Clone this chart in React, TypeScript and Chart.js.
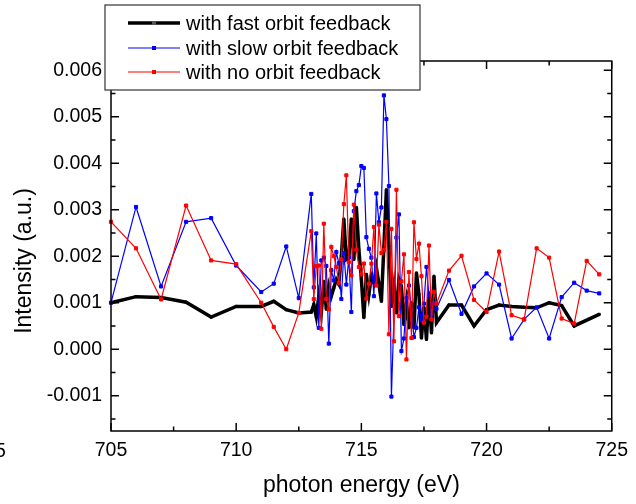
import React, { useEffect, useRef } from 'react';
import { Chart, registerables } from 'chart.js';

Chart.register(...registerables);

// photon energy (eV)
const energy = [
  705, 706, 707, 708, 709, 710, 711, 711.5, 712, 712.5,
  713.0, 713.1, 713.2, 713.3, 713.4, 713.5, 713.6, 713.7, 713.8, 713.9,
  714.0, 714.1, 714.2, 714.3, 714.4, 714.5, 714.6, 714.7, 714.8, 714.9,
  715.0, 715.1, 715.2, 715.3, 715.4, 715.5, 715.6, 715.7, 715.8, 715.9,
  716.0, 716.1, 716.2, 716.3, 716.4, 716.5, 716.6, 716.7, 716.8, 716.9,
  717.0, 717.1, 717.2, 717.3, 717.4, 717.5, 717.6, 717.7, 717.8, 717.9,
  718.0, 718.5, 719, 719.5, 720, 720.5, 721, 721.5, 722, 722.5, 723, 723.5, 724, 724.5,
];

// with fast orbit feedback
const fastFeedback = [
  0.00100, 0.00113, 0.00111, 0.00101, 0.00069, 0.00092, 0.00092, 0.00103, 0.00085, 0.00078,
  0.00080, 0.00096, 0.00070, 0.00114, 0.00078, 0.00146, 0.00086, 0.00135, 0.00114, 0.00132,
  0.00150, 0.00140, 0.00200, 0.00280, 0.00193, 0.00197, 0.00280, 0.00193, 0.00305, 0.00214,
  0.00150, 0.00068, 0.00161, 0.00118, 0.00157, 0.00143, 0.00175, 0.00140, 0.00103, 0.00220,
  0.00343, 0.00222, 0.00092, 0.00135, 0.00078, 0.00150, 0.00135, 0.00053, 0.00100, 0.00046,
  0.00100, 0.00046, 0.00164, 0.00118, 0.00024, 0.00090, 0.00021, 0.00121, 0.00035, 0.00157,
  0.00057, 0.00095, 0.00095, 0.00050, 0.00085, 0.00095, 0.00092, 0.00090, 0.00089, 0.00100, 0.00094, 0.00050, null, 0.00075,
];

// with slow orbit feedback
const slowFeedback = [
  0.00100, 0.00306, 0.00135, 0.00274, 0.00282, 0.00180, 0.00123, 0.00141, 0.00221, 0.00110,
  0.00334, 0.00133, 0.00249, 0.00046, 0.00191, 0.00197, 0.00179, 0.00012, 0.00170, 0.00148,
  0.00209, 0.00185, 0.00108, 0.00207, 0.00139, 0.00197, 0.00080, 0.00297, 0.00340, 0.00353,
  0.00394, 0.00390, 0.00241, 0.00216, 0.00197, 0.00114, 0.00335, 0.00273, 0.00305, 0.00546,
  0.00495, 0.00351, -0.00102, null, 0.00240, 0.00290, -0.00004, 0.00023, 0.00110, 0.00137,
  0.00085, 0.00026, 0.00046, 0.00090, 0.00062, 0.00098, 0.00177, 0.00115, 0.00075, 0.00100,
  0.00087, 0.00149, 0.00076, 0.00135, 0.00163, 0.00139, 0.00023, 0.00064, 0.00090, 0.00023, 0.00112, 0.00143, 0.00126, 0.00120,
];

// with no orbit feedback
const noFeedback = [
  0.00274, 0.00217, 0.00107, 0.00309, 0.00191, 0.00183, 0.00100, 0.00048, 0.00000, 0.00078,
  0.00254, 0.00108, 0.00179, 0.00180, 0.00044, 0.00270, 0.00108, 0.00086, 0.00220, 0.00200,
  0.00177, 0.00143, 0.00193, 0.00312, 0.00374, 0.00187, 0.00159, 0.00311, 0.00214, 0.00177,
  0.00161, 0.00184, 0.00109, 0.00141, 0.00184, 0.00263, 0.00137, 0.00268, 0.00207, 0.00213,
  0.00274, 0.00032, 0.00259, 0.00017, 0.00343, 0.00071, 0.00146, 0.00204, -0.00022, 0.00166,
  0.00024, 0.00273, 0.00194, 0.00227, 0.00157, 0.00057, 0.00070, 0.00223, 0.00064, 0.00123,
  0.00098, 0.00169, 0.00201, 0.00106, 0.00080, 0.00210, 0.00073, 0.00064, 0.00217, 0.00197, 0.00066, 0.00055, 0.00190, 0.00161,
];

const seriesLabels = ['with fast orbit feedback', 'with slow orbit feedback', 'with no orbit feedback'];
const seriesColors = ['#000000', '#0000ff', '#ff0000'];

const xTicks = [705, 710, 715, 720, 725];
const xMinorTicks = [707.5, 712.5, 717.5, 722.5];
const yTicks = [-0.001, 0, 0.001, 0.002, 0.003, 0.004, 0.005, 0.006];
const yMinorTicks = [-0.0015, -0.0005, 0.0005, 0.0015, 0.0025, 0.0035, 0.0045, 0.0055];

const xTitle = 'photon energy (eV)';
const yTitle = 'Intensity (a.u.)';

const FONT = '"Liberation Sans", Arial, sans-serif';

const decorPlugin = {
  id: 'decor',
  afterDraw(chart: any) {
    const { ctx, chartArea } = chart;
    const { left, right, top, bottom } = chartArea;
    const xs = chart.scales.x;
    const ys = chart.scales.y;
    ctx.save();
    ctx.strokeStyle = '#000';
    ctx.lineWidth = 1.5;
    ctx.strokeRect(left, top, right - left, bottom - top);

    const drawX = (vals: number[], len: number) => {
      vals.forEach((v) => {
        const px = xs.getPixelForValue(v);
        ctx.beginPath();
        ctx.moveTo(px, bottom);
        ctx.lineTo(px, bottom - len);
        ctx.moveTo(px, top);
        ctx.lineTo(px, top + len);
        ctx.stroke();
      });
    };
    const drawY = (vals: number[], len: number) => {
      vals.forEach((v) => {
        const py = ys.getPixelForValue(v);
        ctx.beginPath();
        ctx.moveTo(left, py);
        ctx.lineTo(left + len, py);
        ctx.moveTo(right, py);
        ctx.lineTo(right - len, py);
        ctx.stroke();
      });
    };
    drawX(xTicks, 8);
    drawX(xMinorTicks, 4.5);
    drawY(yTicks, 8);
    drawY(yMinorTicks, 4.5);

    // legend box
    const bx = 105, by = 5, bw = 315, bh = 85;
    ctx.fillStyle = '#fff';
    ctx.fillRect(bx, by, bw, bh);
    ctx.strokeStyle = '#333';
    ctx.lineWidth = 1.2;
    ctx.strokeRect(bx, by, bw, bh);
    const rows = [23, 48, 72];
    chart.data.datasets.forEach((ds: any, i: number) => {
      const y = rows[i];
      ctx.strokeStyle = ds.borderColor;
      ctx.lineWidth = ds.borderWidth;
      ctx.beginPath();
      ctx.moveTo(128, y);
      ctx.lineTo(180, y);
      ctx.stroke();
      ctx.fillStyle = i === 0 ? '#555' : ds.borderColor;
      ctx.fillRect(152, y - 2, 4, 4);
      ctx.fillStyle = '#000';
      ctx.font = `20px ${FONT}`;
      ctx.textAlign = 'left';
      ctx.textBaseline = 'middle';
      ctx.fillText(ds.label, 186, y + 1);
    });

    // axis titles
    ctx.fillStyle = '#000';
    ctx.font = `23px ${FONT}`;
    ctx.textAlign = 'center';
    ctx.textBaseline = 'middle';
    ctx.fillText(xTitle, (left + right) / 2, 486);
    ctx.save();
    ctx.translate(25, 261);
    ctx.rotate(-Math.PI / 2);
    ctx.fillText(yTitle, 0, 0);
    ctx.restore();

    // clipped label remnant at the left edge
    ctx.font = `19.5px ${FONT}`;
    ctx.textAlign = 'left';
    ctx.fillText('5', -5, 452);
    ctx.restore();
  },
};

export default function App() {
  const ref = useRef<HTMLCanvasElement | null>(null);
  useEffect(() => {
    if (!ref.current) return;
    const series = [fastFeedback, slowFeedback, noFeedback];
    const widths = [3.5, 1.2, 1.2];
    const radii = [1.5, 2.2, 2.2];
    const orders = [3, 2, 1];
    const chart = new Chart(ref.current, {
      type: 'line',
      data: {
        datasets: series.map((vals, i) => ({
          label: seriesLabels[i],
          data: energy.map((x, j) => ({ x, y: vals[j] })),
          borderColor: seriesColors[i],
          backgroundColor: seriesColors[i],
          borderWidth: widths[i],
          pointStyle: 'rect',
          pointRadius: radii[i],
          pointBorderWidth: 1,
          pointBorderColor: seriesColors[i],
          pointBackgroundColor: seriesColors[i],
          tension: 0,
          spanGaps: true,
          order: orders[i],
          clip: false as any,
        })),
      },
      options: {
        responsive: false,
        animation: false,
        devicePixelRatio: 1,
        layout: { padding: { top: 61, right: 22, left: 0, bottom: 0 } },
        plugins: { legend: { display: false }, tooltip: { enabled: false } },
        scales: {
          x: {
            type: 'linear',
            min: 705,
            max: 725,
            afterBuildTicks: (s: any) => {
              s.ticks = xTicks.map((v) => ({ value: v }));
            },
            afterFit: (s: any) => {
              s.height = 73;
            },
            ticks: {
              color: '#000',
              font: { family: FONT, size: 19.5 },
              padding: 8,
              maxRotation: 0,
              autoSkip: false,
              callback: (v: any) => String(v),
            },
            grid: { display: false, drawTicks: false },
            border: { display: false },
          },
          y: {
            type: 'linear',
            min: -0.00176,
            max: 0.0062,
            afterBuildTicks: (s: any) => {
              s.ticks = yTicks.map((v) => ({ value: v }));
            },
            afterFit: (s: any) => {
              s.width = 111;
            },
            ticks: {
              color: '#000',
              font: { family: FONT, size: 19.5 },
              padding: 9,
              autoSkip: false,
              callback: (v: any) => Number(v).toFixed(3),
            },
            grid: { display: false, drawTicks: false },
            border: { display: false },
          },
        },
      },
      plugins: [decorPlugin],
    });
    return () => chart.destroy();
  }, []);
  return (
    <div style={{ position: 'absolute', left: 0, top: 0, width: 636, height: 504, background: '#fff' }}>
      <canvas ref={ref} width={636} height={504} style={{ display: 'block' }} />
    </div>
  );
}
